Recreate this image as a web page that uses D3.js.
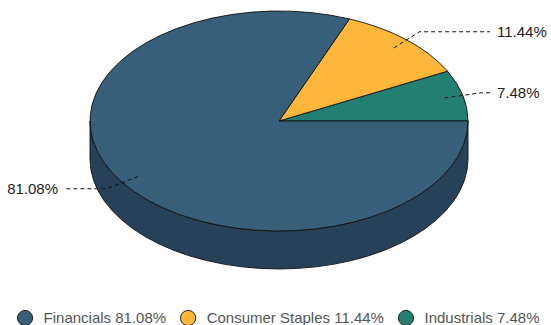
<!DOCTYPE html>
<html>
<head>
<meta charset="utf-8">
<script src="https://cdn.jsdelivr.net/npm/d3@7/dist/d3.min.js"></script>
<style>
  html, body { margin: 0; padding: 0; background: #fff; }
  svg { display: block; font-family: "Liberation Sans", Arial, sans-serif; }
</style>
</head>
<body>
<svg id="chart" width="551" height="325"></svg>
<script>
const categories = ["Industrials", "Consumer Staples", "Financials"];
const values = [7.48, 11.44, 81.08];
const topColors = ["#237f72", "#feb73b", "#375f79"];
const sideColors = ["#185a51", "#b5822a", "#274258"];
const legendOrder = ["Financials", "Consumer Staples", "Industrials"];

const W = 551, H = 325;
const cx = 279, cy = 121, rx = 189, ry = 110, depth = 38;

const svg = d3.select("#chart");
const data = categories.map((c, i) => ({ name: c, value: values[i], top: topColors[i], side: sideColors[i] }));

const pie = d3.pie().sort(null).value(d => d.value)
  .startAngle(Math.PI / 2).endAngle(Math.PI / 2 - 2 * Math.PI);
const arcs = pie(data);

const px = (a, k = 1) => cx + rx * k * Math.sin(a);
const py = (a, k = 1) => cy - ry * k * Math.cos(a);

// side walls (front half)
const front = [[-3 * Math.PI / 2, -Math.PI / 2], [Math.PI / 2, 3 * Math.PI / 2]];
const sideG = svg.append("g");
arcs.forEach(d => {
  const lo = Math.min(d.startAngle, d.endAngle), hi = Math.max(d.startAngle, d.endAngle);
  front.forEach(([fl, fh]) => {
    const s = Math.max(lo, fl), e = Math.min(hi, fh);
    if (e - s <= 1e-6) return;
    const large = (e - s) > Math.PI ? 1 : 0;
    const path = `M${px(e)},${py(e)} A${rx},${ry} 0 ${large} 0 ${px(s)},${py(s)} ` +
      `L${px(s)},${py(s) + depth} A${rx},${ry} 0 ${large} 1 ${px(e)},${py(e) + depth} Z`;
    sideG.append("path").attr("d", path).attr("fill", d.data.side)
      .attr("stroke", "#111").attr("stroke-width", 0.9).attr("stroke-linejoin", "round");
  });
});

// top faces
const topG = svg.append("g");
arcs.forEach(d => {
  const a0 = d.startAngle, a1 = d.endAngle;
  const large = Math.abs(a1 - a0) > Math.PI ? 1 : 0;
  const path = `M${cx},${cy} L${px(a0)},${py(a0)} A${rx},${ry} 0 ${large} 0 ${px(a1)},${py(a1)} Z`;
  topG.append("path").attr("d", path).attr("fill", d.data.top)
    .attr("stroke", "#111").attr("stroke-width", 0.9).attr("stroke-linejoin", "round");
});

// labels
const labG = svg.append("g");
arcs.forEach(d => {
  const m = (d.startAngle + d.endAngle) / 2;
  const right = Math.sin(m) >= 0;
  const x0 = px(m, 0.9), y0 = py(m, 0.9);
  const x1 = px(m, 1.1), y1 = py(m, 1.1);
  const x2 = right ? cx + rx + 22 : cx - rx - 25;
  labG.append("polyline")
    .attr("points", `${x0},${y0} ${x1},${y1} ${x2},${y1}`)
    .attr("fill", "none").attr("stroke", "#111").attr("stroke-width", 1)
    .attr("stroke-dasharray", "4,3");
  labG.append("text")
    .attr("x", right ? x2 + 7 : x2 - 7).attr("y", y1).attr("dy", "0.35em")
    .attr("text-anchor", right ? "start" : "end")
    .attr("font-size", 15).attr("fill", "#222")
    .text(d.data.value.toFixed(2) + "%");
});

// legend
const legG = svg.append("g");
let x = 0;
const items = legendOrder.map(n => data.find(d => d.name === n));
items.forEach(d => {
  const g = legG.append("g").attr("transform", `translate(${x},0)`);
  g.append("circle").attr("cx", 0).attr("cy", 0).attr("r", 7.6)
    .attr("fill", d.top).attr("stroke", "#222").attr("stroke-width", 1);
  const t = g.append("text").attr("x", 18.5).attr("y", 0).attr("dy", "0.35em")
    .attr("font-size", 15).attr("fill", "#555")
    .text(`${d.name} ${d.value.toFixed(2)}%`);
  x += 18.5 + t.node().getComputedTextLength() + 22;
});
const legW = x - 22 + 7.6;
legG.attr("transform", `translate(${(W - legW) / 2 + 3 + 7.6},318)`);
</script>
</body>
</html>
